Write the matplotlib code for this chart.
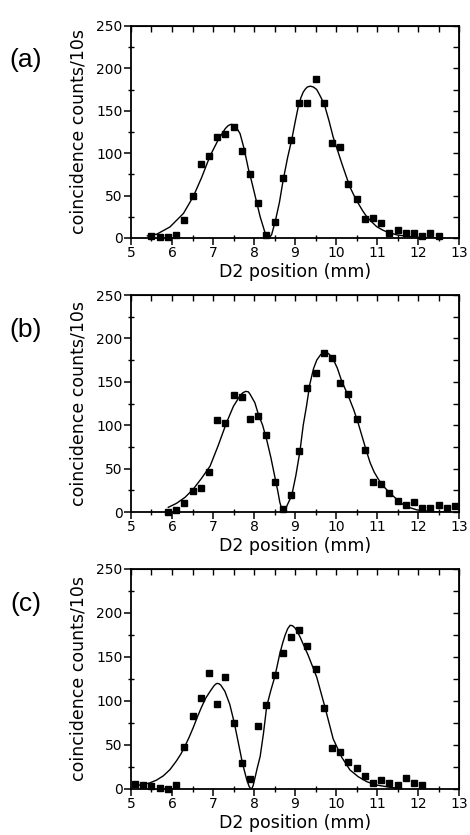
import numpy as np
import matplotlib
matplotlib.use("Agg")
import matplotlib.pyplot as plt
from matplotlib.ticker import MultipleLocator

plt.rcParams['font.family'] = ['DejaVu Sans']

# ---- panel (a) ----
xa = [5.5, 5.7, 5.9, 6.1, 6.3, 6.5, 6.7, 6.9, 7.1, 7.3, 7.5, 7.7, 7.9, 8.1, 8.3, 8.5, 8.7, 8.9,
      9.1, 9.3, 9.5, 9.7, 9.9, 10.1, 10.3, 10.5, 10.7, 10.9, 11.1, 11.3, 11.5, 11.7, 11.9, 12.1, 12.3, 12.5]
ya = [2.4, 1, 1, 3, 21, 49, 87, 97, 119, 123, 131, 103, 75, 41, 3, 19, 71, 116,
      159, 159, 188, 159, 112, 107, 64, 46, 22, 24, 18, 5.5, 9, 5.5, 6, 2.4, 5.5, 2.4]
# fitted curve
fxa = [5.40, 5.63, 5.95, 6.28, 6.52, 6.72, 6.93, 7.13, 7.30, 7.37, 7.44, 7.50, 7.55, 7.66, 7.76,
       7.86, 7.94, 8.05, 8.15, 8.27, 8.32, 8.35, 8.39, 8.43, 8.52, 8.62, 8.71, 8.82, 8.92, 9.00,
       9.08, 9.14, 9.20, 9.25, 9.30, 9.37, 9.45, 9.53, 9.63, 9.73, 9.83, 9.93, 10.04, 10.14, 10.24,
       10.34, 10.44, 10.54, 10.65, 10.75, 10.87, 10.99, 11.13, 11.28, 11.50, 11.80, 12.10, 12.50]
fya = [2.5, 4.5, 13, 29, 49, 71, 97, 116, 129, 132.5, 134, 133.5, 132, 123, 105,
       82, 67, 45, 25, 6, 1.5, 0, 1.2, 4, 20, 42, 68, 95, 116, 136,
       155, 165, 172, 175.5, 178, 179, 178, 175, 166, 155, 138, 119, 103, 88, 74,
       60, 50, 41, 32, 25, 19, 13.4, 9.5, 6.3, 3.5, 1.5, 0.5, 0]

# ---- panel (b) ----
xb = [5.9, 6.1, 6.3, 6.5, 6.7, 6.9, 7.1, 7.3, 7.5, 7.7, 7.9, 8.1, 8.3, 8.5, 8.7, 8.9, 9.1, 9.3,
      9.5, 9.7, 9.9, 10.1, 10.3, 10.5, 10.7, 10.9, 11.1, 11.3, 11.5, 11.7, 11.9, 12.1, 12.3, 12.5, 12.7, 12.9]
yb = [0, 2, 10, 24, 28, 46, 106, 103, 135, 132, 107, 111, 89, 35, 4, 20, 70, 143,
      160, 183, 177, 149, 136, 107, 71, 35, 32, 22, 13, 8, 11.5, 5, 5, 8, 5, 6.5]
fxb = [5.91, 6.11, 6.32, 6.52, 6.72, 6.93, 7.13, 7.33, 7.50, 7.66, 7.73, 7.80, 7.86, 7.90, 8.02,
       8.11, 8.21, 8.31, 8.41, 8.51, 8.58, 8.63, 8.68, 8.71, 8.76, 8.81, 8.92, 9.02, 9.12, 9.20,
       9.28, 9.36, 9.45, 9.53, 9.62, 9.68, 9.73, 9.78, 9.83, 9.93, 10.03, 10.13, 10.23, 10.33,
       10.43, 10.53, 10.63, 10.73, 10.83, 10.93, 11.03, 11.13, 11.23, 11.33, 11.50, 11.64, 11.80,
       11.97, 12.29, 12.62]
fyb = [5.4, 10, 17, 26.5, 38.8, 53, 77, 103, 122, 134, 137.5, 139, 138.5, 136, 126,
       112, 100, 83, 63, 40, 24, 11, 3, 0.5, 2, 8, 19, 42, 70, 100,
       122, 147, 165, 175, 181, 183.5, 184, 183.5, 182, 176, 166, 152, 141, 130,
       118, 104, 88, 72, 57, 46, 38, 31, 26, 21, 14, 8.5, 5,
       2.5, 0.5, 0]

# ---- panel (c) ----
xc = [5.1, 5.3, 5.5, 5.7, 5.9, 6.1, 6.3, 6.5, 6.7, 6.9, 7.1, 7.3, 7.5, 7.7, 7.9, 8.1, 8.3, 8.5,
      8.7, 8.9, 9.1, 9.3, 9.5, 9.7, 9.9, 10.1, 10.3, 10.5, 10.7, 10.9, 11.1, 11.3, 11.5, 11.7, 11.9, 12.1]
yc = [6, 4, 3, 1, 0.4, 4, 48, 83, 103, 132, 97, 127, 75, 29, 11, 72, 95, 129,
      155, 172.5, 180.5, 163, 136, 92, 47, 42, 31, 24, 15, 7, 10, 7, 4, 12, 7, 5]
fxc = [5.14, 5.30, 5.46, 5.62, 5.79, 5.95, 6.11, 6.22, 6.32, 6.42, 6.52, 6.62, 6.72, 6.82, 6.93,
       7.02, 7.06, 7.10, 7.15, 7.19, 7.29, 7.41, 7.52, 7.62, 7.72, 7.82, 7.88, 7.91, 7.93, 7.95,
       7.98, 8.02, 8.08, 8.15, 8.23, 8.31, 8.41, 8.51, 8.63, 8.70, 8.76, 8.82, 8.88, 8.94, 9.00,
       9.06, 9.12, 9.32, 9.53, 9.73, 9.93, 10.14, 10.34, 10.54, 10.75, 10.99, 11.32, 11.60]
fyc = [4, 5, 7, 10, 15, 22, 32, 40, 49, 59, 70, 82, 93, 103, 111,
       117, 119, 120, 119.5, 118, 111, 96, 75, 52, 29, 11, 3, 1, 0, 1,
       4, 12, 24, 37, 63, 94, 112, 128, 154, 166, 175, 182, 186, 185.5, 183,
       178.5, 173, 152, 127, 93, 57, 36, 21.6, 14, 8.3, 4.5, 1.9, 0.5]

labels = ['(a)', '(b)', '(c)']
# axes boxes in figure fraction (left, bottom, width, height)
boxes = [(0.2787, 0.7150, 0.698, 0.2539),
         (0.2787, 0.3868, 0.698, 0.2599),
         (0.2787, 0.0551, 0.698, 0.2635)]
panels = [(xa, ya, fxa, fya), (xb, yb, fxb, fyb), (xc, yc, fxc, fyc)]

fig = plt.figure(figsize=(4.7, 8.35), dpi=100)

for box, lab, (x, y, fx, fy) in zip(boxes, labels, panels):
    ax = fig.add_axes(box)
    ax.plot(fx, fy, color='black', lw=1.0)
    ax.plot(x, y, 's', color='black', ms=3.8, clip_on=False)
    ax.set_xlim(5, 13)
    ax.set_ylim(0, 250)
    ax.xaxis.set_major_locator(MultipleLocator(1))
    ax.xaxis.set_minor_locator(MultipleLocator(0.5))
    ax.yaxis.set_major_locator(MultipleLocator(50))
    ax.yaxis.set_minor_locator(MultipleLocator(25))
    ax.tick_params(which='major', direction='out', length=5, width=1.1, labelsize=10, pad=1)
    ax.tick_params(which='minor', direction='inout', length=4, width=1.0)
    for s in ax.spines.values():
        s.set_linewidth(1.3)

    top = ax.secondary_xaxis('top')
    top.xaxis.set_major_locator(MultipleLocator(0.5))
    top.tick_params(direction='in', length=4, width=1.0, labeltop=False)
    right = ax.secondary_yaxis('right')
    right.yaxis.set_major_locator(MultipleLocator(25))
    right.tick_params(direction='in', length=4, width=1.0, labelright=False)

    ax.set_xlabel('D2 position (mm)', fontsize=12.5, labelpad=2)
    ax.set_ylabel('coincidence counts/10s', fontsize=12.5, labelpad=6)
    ax.text(-0.32, 0.84, lab, transform=ax.transAxes, fontsize=19,
            family='Liberation Sans', ha='center', va='center')

fig.savefig('out.png', dpi=100)
